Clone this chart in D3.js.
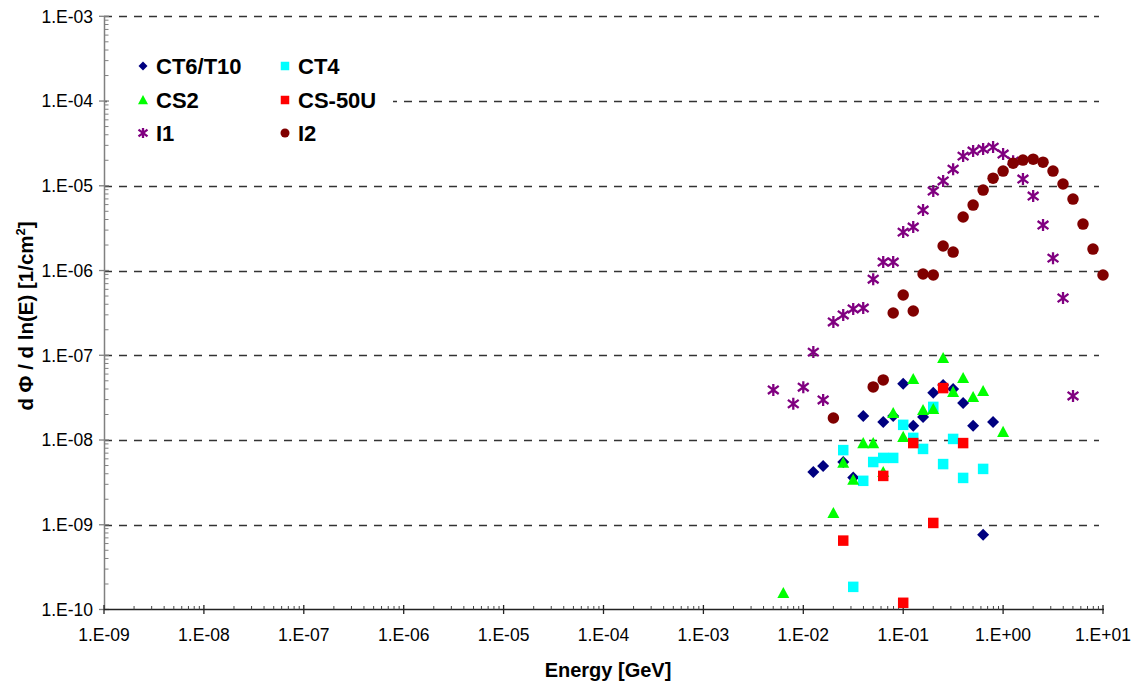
<!DOCTYPE html>
<html>
<head>
<meta charset="utf-8">
<script src="https://cdn.jsdelivr.net/npm/d3@7"></script>
<style>
  html, body { margin: 0; padding: 0; background: #fff; }
  svg { display: block; font-family: "Liberation Sans", Arial, sans-serif; }
</style>
</head>
<body>
<svg id="chart" width="1138" height="688"></svg>
<script>
// Axis ticks (decades) and their labels
const xTickValues = [1e-9, 1e-8, 1e-7, 1e-6, 1e-5, 1e-4, 1e-3, 1e-2, 1e-1, 1e0, 1e1];
const xTickLabels = ["1.E-09", "1.E-08", "1.E-07", "1.E-06", "1.E-05", "1.E-04", "1.E-03", "1.E-02", "1.E-01", "1.E+00", "1.E+01"];
const yTickValues = [1e-10, 1e-9, 1e-8, 1e-7, 1e-6, 1e-5, 1e-4, 1e-3];
const yTickLabels = ["1.E-10", "1.E-09", "1.E-08", "1.E-07", "1.E-06", "1.E-05", "1.E-04", "1.E-03"];

// Series names (legend order)
const seriesNames = ["CT6/T10", "CT4", "CS2", "CS-50U", "I1", "I2"];

// CT6/T10
const ct6Energy = [0.0126, 0.0158, 0.0251, 0.0316, 0.0398, 0.0631, 0.0794, 0.1, 0.126, 0.158, 0.2, 0.251, 0.316, 0.398, 0.501, 0.631, 0.794];
const ct6Flux   = [4.2e-9, 4.95e-9, 5.5e-9, 3.6e-9, 1.92e-8, 1.63e-8, 1.92e-8, 4.6e-8, 1.47e-8, 1.87e-8, 3.6e-8, 4.45e-8, 4.0e-8, 2.74e-8, 1.47e-8, 7.6e-10, 1.63e-8];

// CT4
const ct4Energy = [0.0251, 0.0316, 0.0398, 0.0501, 0.0631, 0.0794, 0.1, 0.126, 0.158, 0.2, 0.251, 0.316, 0.398, 0.631];
const ct4Flux   = [7.6e-9, 1.85e-10, 3.3e-9, 5.5e-9, 6.15e-9, 6.15e-9, 1.51e-8, 1.06e-8, 7.85e-9, 2.46e-8, 5.2e-9, 1.03e-8, 3.57e-9, 4.56e-9];

// CS2
const cs2Energy = [0.00631, 0.02, 0.0251, 0.0316, 0.0398, 0.0501, 0.0631, 0.0794, 0.1, 0.126, 0.158, 0.2, 0.251, 0.316, 0.398, 0.501, 0.631, 1.0];
const cs2Flux   = [1.57e-10, 1.38e-9, 5.4e-9, 3.4e-9, 9.2e-9, 9.2e-9, 4.2e-9, 2.09e-8, 1.09e-8, 5.25e-8, 2.26e-8, 2.33e-8, 9.3e-8, 3.7e-8, 5.4e-8, 3.22e-8, 3.8e-8, 1.25e-8];

// CS-50U
const cs50Energy = [0.0251, 0.0631, 0.1, 0.126, 0.2, 0.251, 0.398];
const cs50Flux   = [6.5e-10, 3.77e-9, 1.2e-10, 9.2e-9, 1.05e-9, 4.1e-8, 9.2e-9];

// I1
const i1Energy = [0.00501, 0.00794, 0.01, 0.0126, 0.0158, 0.02, 0.0251, 0.0316, 0.0398, 0.0501, 0.0631, 0.0794, 0.1, 0.126, 0.158, 0.2, 0.251, 0.316, 0.398, 0.501, 0.631, 0.794, 1.0, 1.26, 1.58, 2.0, 2.51, 3.16, 3.98, 5.01];
const i1Flux   = [3.9e-8, 2.67e-8, 4.2e-8, 1.09e-7, 2.97e-8, 2.47e-7, 2.99e-7, 3.52e-7, 3.61e-7, 7.9e-7, 1.26e-6, 1.26e-6, 2.84e-6, 3.26e-6, 5.17e-6, 8.66e-6, 1.14e-5, 1.57e-5, 2.24e-5, 2.57e-5, 2.71e-5, 2.86e-5, 2.37e-5, 1.95e-5, 1.2e-5, 7.56e-6, 3.44e-6, 1.4e-6, 4.74e-7, 3.31e-8];

// I2
const i2Energy = [0.02, 0.0501, 0.0631, 0.0794, 0.1, 0.126, 0.158, 0.2, 0.251, 0.316, 0.398, 0.501, 0.631, 0.794, 1.0, 1.26, 1.58, 2.0, 2.51, 3.16, 3.98, 5.01, 6.31, 7.94, 10.0];
const i2Flux   = [1.82e-8, 4.23e-8, 5.12e-8, 3.15e-7, 5.14e-7, 3.33e-7, 9.1e-7, 8.85e-7, 1.95e-6, 1.65e-6, 4.28e-6, 5.92e-6, 8.89e-6, 1.23e-5, 1.49e-5, 1.85e-5, 2.01e-5, 2.06e-5, 1.9e-5, 1.49e-5, 1.05e-5, 6.97e-6, 3.53e-6, 1.79e-6, 8.85e-7];

const series = [
  { name: seriesNames[0], energy: ct6Energy, flux: ct6Flux, shape: "diamond", color: "#000080" },
  { name: seriesNames[1], energy: ct4Energy, flux: ct4Flux, shape: "square", color: "#00FFFF" },
  { name: seriesNames[2], energy: cs2Energy, flux: cs2Flux, shape: "triangle", color: "#00FF00" },
  { name: seriesNames[3], energy: cs50Energy, flux: cs50Flux, shape: "square", color: "#FF0000" },
  { name: seriesNames[4], energy: i1Energy, flux: i1Flux, shape: "star", color: "#800080" },
  { name: seriesNames[5], energy: i2Energy, flux: i2Flux, shape: "circle", color: "#800000" }
];

const svg = d3.select("#chart");
const plot = { left: 104, right: 1103, top: 16.3, bottom: 609.5 };

const x = d3.scaleLog().domain([1e-9, 1e1]).range([plot.left, plot.right]);
const y = d3.scaleLog().domain([1e-10, 1e-3]).range([plot.bottom, plot.top]);

// Marker path builders, centred on (0,0); s = nominal marker size in px
function markerPath(shape, s) {
  const h = s / 2;
  switch (shape) {
    case "diamond": return `M0,${-h}L${h},0L0,${h}L${-h},0Z`;
    case "square": return `M${-h},${-h}H${h}V${h}H${-h}Z`;
    case "triangle": return `M0,${-h}L${h},${h * 0.85}L${-h},${h * 0.85}Z`;
    case "star": {
      const d = h * 0.9;
      return `M0,${-h}V${h}M${-d},${-d * 0.75}L${d},${d * 0.75}M${-d},${d * 0.75}L${d},${-d * 0.75}`;
    }
    case "circle": return `M${-h},0A${h},${h} 0 1,0 ${h},0A${h},${h} 0 1,0 ${-h},0Z`;
  }
}
const markerSize = { diamond: 12, square: 10.5, triangle: 12, star: 12, circle: 11.5 };
const legendSize = { diamond: 9, square: 8.5, triangle: 10, star: 10, circle: 9 };

function drawMarker(sel, shape, color, s) {
  sel.append("path")
    .attr("d", markerPath(shape, s))
    .attr("fill", shape === "star" ? "none" : color)
    .attr("stroke", shape === "star" ? color : "none")
    .attr("stroke-width", shape === "star" ? 2.3 : 0);
}

// Horizontal dashed gridlines at each decade above the x axis
svg.append("g").selectAll("line")
  .data(yTickValues.slice(1))
  .join("line")
  .attr("x1", plot.left).attr("x2", plot.right - 4)
  .attr("y1", d => Math.round(y(d)) + 0.5).attr("y2", d => Math.round(y(d)) + 0.5)
  .attr("stroke", "#333").attr("stroke-width", 1.3)
  .attr("stroke-dasharray", "8,7");

// Minor tick positions (2..9 within each decade)
function minorTicks(lo, hi) {
  const out = [];
  for (let e = lo; e < hi; e++) for (let k = 2; k <= 9; k++) out.push(k * Math.pow(10, e));
  return out;
}

// Legend box background (hides gridlines behind it)
svg.append("rect")
  .attr("x", 107).attr("y", 46).attr("width", 286).attr("height", 106)
  .attr("fill", "#fff");

// Y axis
const yAxis = svg.append("g");
yAxis.append("line")
  .attr("x1", plot.left + 0.5).attr("x2", plot.left + 0.5)
  .attr("y1", plot.top).attr("y2", plot.bottom)
  .attr("stroke", "#808080").attr("stroke-width", 1.5);
yAxis.selectAll(".ymin").data(minorTicks(-10, -3)).join("line")
  .attr("x1", plot.left).attr("x2", plot.left + 4.5)
  .attr("y1", d => y(d)).attr("y2", d => y(d))
  .attr("stroke", "#808080").attr("stroke-width", 1);
yAxis.selectAll(".ymaj").data(yTickValues).join("line")
  .attr("x1", plot.left - 5).attr("x2", plot.left + 5)
  .attr("y1", d => y(d)).attr("y2", d => y(d))
  .attr("stroke", "#808080").attr("stroke-width", 1.3);
yAxis.selectAll("text").data(yTickValues).join("text")
  .attr("x", 93).attr("y", d => y(d)).attr("dy", "0.36em")
  .attr("text-anchor", "end").attr("font-size", 17.5).attr("fill", "#000")
  .text((d, i) => yTickLabels[i]);

// X axis
const xAxis = svg.append("g");
xAxis.append("line")
  .attr("x1", plot.left).attr("x2", plot.right + 1)
  .attr("y1", plot.bottom).attr("y2", plot.bottom)
  .attr("stroke", "#222").attr("stroke-width", 1.5);
xAxis.selectAll(".xmin").data(minorTicks(-9, 1)).join("line")
  .attr("x1", d => x(d)).attr("x2", d => x(d))
  .attr("y1", plot.bottom - 3.5).attr("y2", plot.bottom)
  .attr("stroke", "#444").attr("stroke-width", 1);
xAxis.selectAll(".xmaj").data(xTickValues).join("line")
  .attr("x1", d => x(d)).attr("x2", d => x(d))
  .attr("y1", plot.bottom - 4.5).attr("y2", plot.bottom + 4.5)
  .attr("stroke", "#222").attr("stroke-width", 1.3);
xAxis.selectAll("text").data(xTickValues).join("text")
  .attr("x", d => x(d)).attr("y", 641)
  .attr("text-anchor", "middle").attr("font-size", 17.5).attr("fill", "#000")
  .text((d, i) => xTickLabels[i]);

// Axis titles
svg.append("text")
  .attr("x", 608).attr("y", 677)
  .attr("text-anchor", "middle").attr("font-size", 20).attr("font-weight", "bold")
  .text("Energy [GeV]");

const yTitle = svg.append("text")
  .attr("transform", "translate(33,316) rotate(-90)")
  .attr("text-anchor", "middle").attr("font-size", 20.5).attr("font-weight", "bold");
yTitle.append("tspan").text("d Φ / d ln(E) [1/cm");
yTitle.append("tspan").attr("font-size", 13).attr("dy", -8).text("2");
yTitle.append("tspan").attr("dy", 8).text("]");

// Data markers
const marks = svg.append("g");
series.forEach(s => {
  const pts = s.energy.map((e, i) => ({ e, v: s.flux[i] }));
  marks.append("g").selectAll("g").data(pts).join("g")
    .attr("transform", d => `translate(${x(d.e)},${y(d.v)})`)
    .each(function () { drawMarker(d3.select(this), s.shape, s.color, markerSize[s.shape]); });
});

// Legend (two columns, three rows)
const legendCols = [143, 285];
const legendRows = [66, 100, 133];
const legend = svg.append("g");
series.forEach((s, i) => {
  const cx = legendCols[i % 2], cy = legendRows[Math.floor(i / 2)];
  const g = legend.append("g").attr("transform", `translate(${cx},${cy})`);
  drawMarker(g, s.shape, s.color, legendSize[s.shape]);
  legend.append("text")
    .attr("x", cx + 13).attr("y", cy + 8)
    .attr("font-size", 22).attr("font-weight", "bold").attr("fill", "#000")
    .text(s.name);
});
</script>
</body>
</html>
